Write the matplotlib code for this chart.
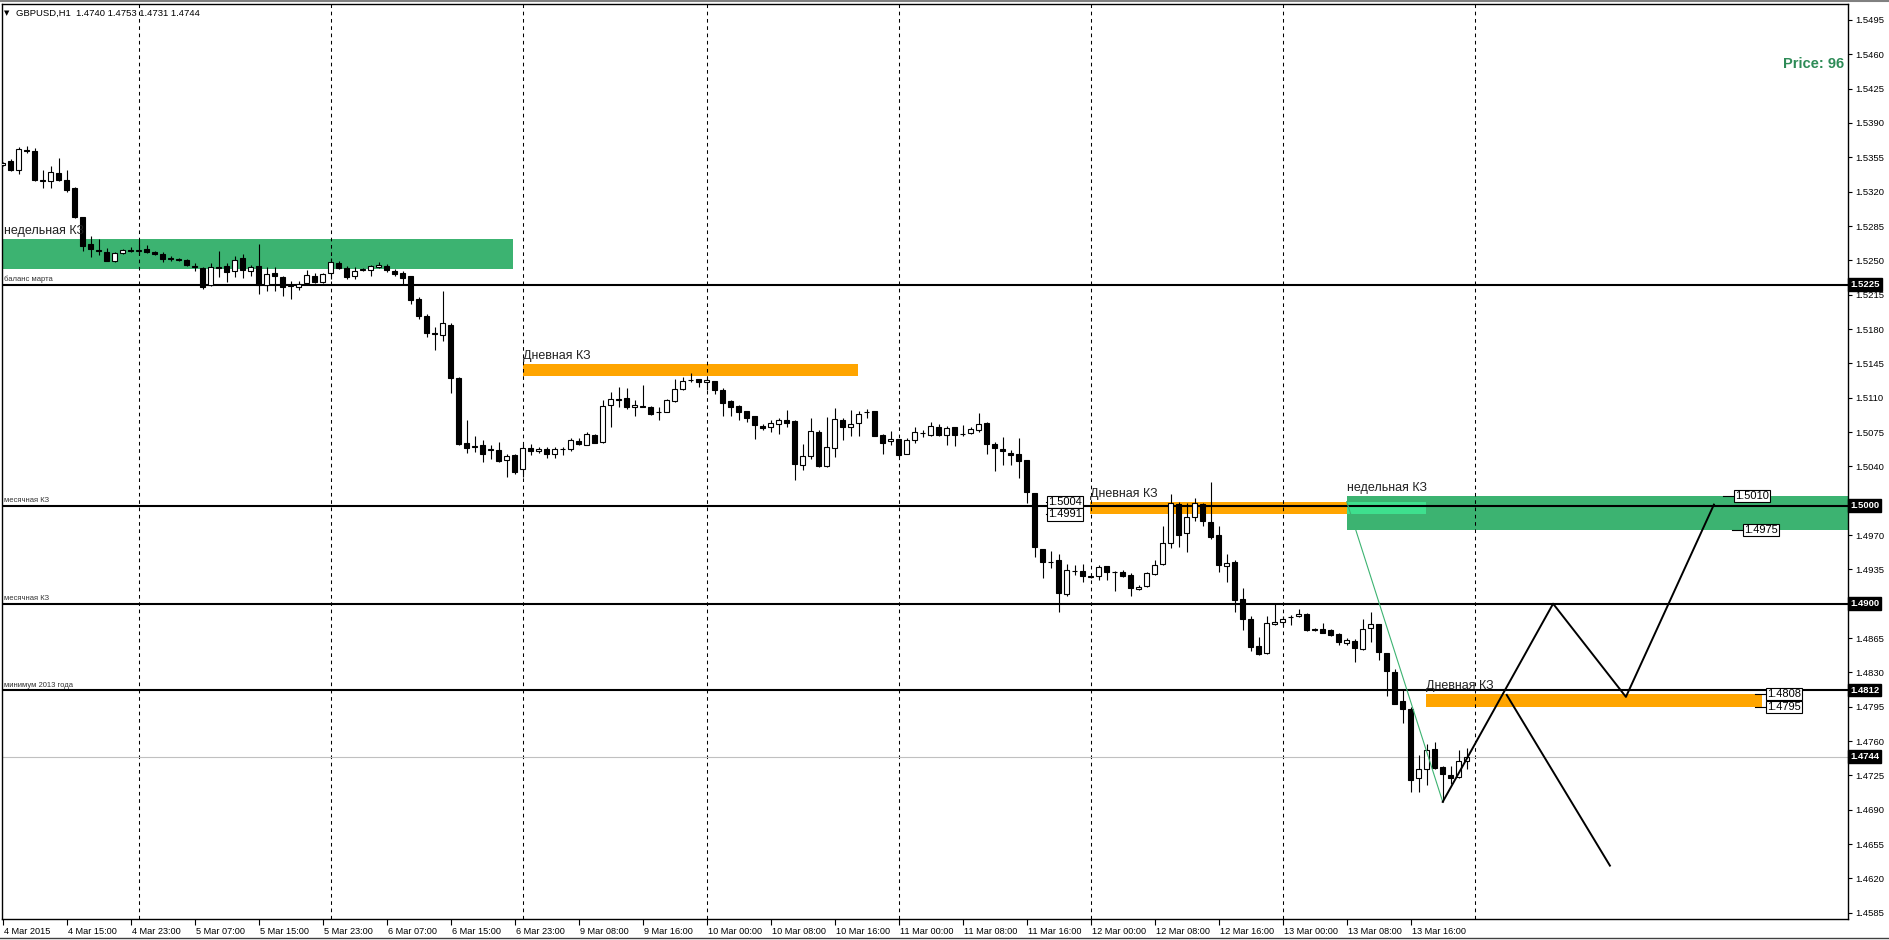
import numpy as np
import matplotlib
matplotlib.use("Agg")
import matplotlib.pyplot as plt
from matplotlib.patches import Rectangle
from matplotlib.transforms import ScaledTranslation, blended_transform_factory

plt.rcParams['font.family'] = ['Liberation Sans', 'DejaVu Sans']

# GBPUSD H1, 4 Mar 2015 07:00 ... 13 Mar 2015 23:00 (bar index 0..183)
opens = [
    1.5347, 1.5351, 1.5342, 1.5362, 1.5361, 1.5332, 1.5331, 1.5339, 1.5332, 1.5324,
    1.5294, 1.5267, 1.5261, 1.5259, 1.5249, 1.5257, 1.5261, 1.5260, 1.5262, 1.5259,
    1.5256, 1.5252, 1.5251, 1.5250, 1.5244, 1.5242, 1.5225, 1.5243, 1.5244, 1.5239,
    1.5252, 1.5239, 1.5244, 1.5225, 1.5237, 1.5233, 1.5224, 1.5223, 1.5227, 1.5234,
    1.5228, 1.5237, 1.5247, 1.5242, 1.5234, 1.5240, 1.5240, 1.5243, 1.5244, 1.5239,
    1.5237, 1.5234, 1.5211, 1.5193, 1.5176, 1.5174, 1.5184, 1.5130, 1.5064, 1.5061,
    1.5062, 1.5058, 1.5057, 1.5046, 1.5052, 1.5037, 1.5059, 1.5056, 1.5058, 1.5053,
    1.5058, 1.5058, 1.5066, 1.5062, 1.5072, 1.5065, 1.5103, 1.5109, 1.5110, 1.5100,
    1.5102, 1.5100, 1.5095, 1.5095, 1.5107, 1.5119, 1.5128, 1.5129, 1.5126, 1.5127,
    1.5118, 1.5107, 1.5102, 1.5096, 1.5091, 1.5081, 1.5080, 1.5083, 1.5087, 1.5086,
    1.5041, 1.5051, 1.5075, 1.5040, 1.5059, 1.5087, 1.5080, 1.5084, 1.5095, 1.5096,
    1.5072, 1.5066, 1.5068, 1.5053, 1.5067, 1.5074, 1.5072, 1.5080, 1.5072, 1.5080,
    1.5073, 1.5074, 1.5077, 1.5084, 1.5063, 1.5058, 1.5054, 1.5053, 1.5046, 1.5013,
    1.4956, 1.4942, 1.4945, 1.4910, 1.4933, 1.4933, 1.4927, 1.4928, 1.4938, 1.4932,
    1.4932, 1.4929, 1.4915, 1.4918, 1.4930, 1.4940, 1.4962, 1.5002, 1.4972, 1.4988,
    1.5002, 1.4983, 1.4970, 1.4938, 1.4942, 1.4905, 1.4884, 1.4857, 1.4850, 1.4879,
    1.4881, 1.4886, 1.4887, 1.4890, 1.4874, 1.4874, 1.4873, 1.4869, 1.4860, 1.4862,
    1.4854, 1.4875, 1.4879, 1.4850, 1.4830, 1.4801, 1.4793, 1.4722, 1.4731, 1.4752,
    1.4734, 1.4725, 1.4723, 1.4740,
]
highs = [
    1.5350, 1.5353, 1.5366, 1.5367, 1.5365, 1.5342, 1.5346, 1.5354, 1.5342, 1.5325,
    1.5294, 1.5275, 1.5272, 1.5263, 1.5258, 1.5262, 1.5264, 1.5271, 1.5266, 1.5260,
    1.5258, 1.5254, 1.5252, 1.5251, 1.5247, 1.5243, 1.5247, 1.5260, 1.5247, 1.5254,
    1.5256, 1.5245, 1.5267, 1.5243, 1.5243, 1.5234, 1.5229, 1.5229, 1.5240, 1.5237,
    1.5237, 1.5252, 1.5249, 1.5244, 1.5243, 1.5242, 1.5245, 1.5248, 1.5246, 1.5241,
    1.5239, 1.5234, 1.5213, 1.5195, 1.5182, 1.5219, 1.5186, 1.5131, 1.5087, 1.5071,
    1.5067, 1.5062, 1.5065, 1.5053, 1.5053, 1.5063, 1.5063, 1.5060, 1.5060, 1.5060,
    1.5060, 1.5069, 1.5069, 1.5075, 1.5073, 1.5108, 1.5116, 1.5121, 1.5120, 1.5108,
    1.5123, 1.5102, 1.5100, 1.5109, 1.5129, 1.5131, 1.5135, 1.5129, 1.5131, 1.5127,
    1.5120, 1.5108, 1.5103, 1.5096, 1.5091, 1.5083, 1.5087, 1.5089, 1.5097, 1.5087,
    1.5063, 1.5089, 1.5077, 1.5090, 1.5099, 1.5089, 1.5097, 1.5096, 1.5098, 1.5096,
    1.5073, 1.5076, 1.5068, 1.5069, 1.5080, 1.5077, 1.5085, 1.5083, 1.5081, 1.5080,
    1.5082, 1.5080, 1.5094, 1.5085, 1.5065, 1.5070, 1.5057, 1.5069, 1.5046, 1.5013,
    1.4956, 1.4954, 1.4951, 1.4940, 1.4939, 1.4940, 1.4929, 1.4939, 1.4938, 1.4933,
    1.4934, 1.4931, 1.4919, 1.4932, 1.4945, 1.4979, 1.5012, 1.5004, 1.5003, 1.5008,
    1.5003, 1.5024, 1.4979, 1.4951, 1.4945, 1.4916, 1.4887, 1.4866, 1.4887, 1.4900,
    1.4887, 1.4888, 1.4895, 1.4891, 1.4875, 1.4880, 1.4874, 1.4870, 1.4865, 1.4864,
    1.4884, 1.4892, 1.4879, 1.4850, 1.4833, 1.4812, 1.4795, 1.4746, 1.4757, 1.4759,
    1.4735, 1.4735, 1.4751, 1.4753,
]
lows = [
    1.5346, 1.5341, 1.5338, 1.5359, 1.5331, 1.5324, 1.5324, 1.5331, 1.5320, 1.5293,
    1.5260, 1.5253, 1.5255, 1.5249, 1.5248, 1.5256, 1.5258, 1.5255, 1.5257, 1.5255,
    1.5248, 1.5249, 1.5249, 1.5244, 1.5239, 1.5221, 1.5224, 1.5233, 1.5228, 1.5233,
    1.5232, 1.5234, 1.5216, 1.5219, 1.5219, 1.5214, 1.5211, 1.5220, 1.5227, 1.5227,
    1.5227, 1.5231, 1.5241, 1.5231, 1.5231, 1.5239, 1.5234, 1.5242, 1.5238, 1.5234,
    1.5226, 1.5206, 1.5190, 1.5172, 1.5159, 1.5168, 1.5115, 1.5062, 1.5054, 1.5055,
    1.5044, 1.5048, 1.5044, 1.5029, 1.5032, 1.5029, 1.5052, 1.5054, 1.5049, 1.5049,
    1.5052, 1.5056, 1.5062, 1.5062, 1.5064, 1.5064, 1.5080, 1.5101, 1.5098, 1.5091,
    1.5100, 1.5092, 1.5087, 1.5095, 1.5106, 1.5118, 1.5126, 1.5121, 1.5118, 1.5114,
    1.5091, 1.5091, 1.5087, 1.5085, 1.5068, 1.5077, 1.5075, 1.5073, 1.5080, 1.5026,
    1.5036, 1.5048, 1.5039, 1.5039, 1.5050, 1.5067, 1.5071, 1.5071, 1.5089, 1.5071,
    1.5053, 1.5062, 1.5050, 1.5053, 1.5064, 1.5070, 1.5071, 1.5071, 1.5062, 1.5061,
    1.5071, 1.5073, 1.5075, 1.5053, 1.5035, 1.5041, 1.5041, 1.5028, 1.5003, 1.4948,
    1.4926, 1.4936, 1.4892, 1.4908, 1.4929, 1.4922, 1.4926, 1.4924, 1.4924, 1.4913,
    1.4927, 1.4908, 1.4914, 1.4917, 1.4929, 1.4939, 1.4957, 1.4958, 1.4953, 1.4984,
    1.4979, 1.4966, 1.4932, 1.4922, 1.4892, 1.4873, 1.4852, 1.4848, 1.4849, 1.4878,
    1.4877, 1.4878, 1.4886, 1.4872, 1.4872, 1.4870, 1.4867, 1.4858, 1.4858, 1.4841,
    1.4853, 1.4861, 1.4843, 1.4806, 1.4798, 1.4778, 1.4708, 1.4708, 1.4715, 1.4732,
    1.4698, 1.4716, 1.4722, 1.4731,
]
closes = [
    1.5349, 1.5342, 1.5363, 1.5361, 1.5332, 1.5331, 1.5340, 1.5332, 1.5322, 1.5294,
    1.5265, 1.5262, 1.5260, 1.5249, 1.5257, 1.5261, 1.5260, 1.5261, 1.5259, 1.5256,
    1.5251, 1.5251, 1.5250, 1.5245, 1.5243, 1.5223, 1.5243, 1.5242, 1.5238, 1.5250,
    1.5240, 1.5243, 1.5225, 1.5236, 1.5234, 1.5223, 1.5225, 1.5226, 1.5235, 1.5228,
    1.5236, 1.5248, 1.5242, 1.5233, 1.5239, 1.5241, 1.5244, 1.5245, 1.5240, 1.5236,
    1.5232, 1.5210, 1.5193, 1.5176, 1.5175, 1.5186, 1.5130, 1.5063, 1.5059, 1.5060,
    1.5053, 1.5057, 1.5045, 1.5051, 1.5034, 1.5059, 1.5056, 1.5058, 1.5053, 1.5058,
    1.5058, 1.5067, 1.5063, 1.5073, 1.5064, 1.5102, 1.5109, 1.5108, 1.5101, 1.5103,
    1.5101, 1.5093, 1.5095, 1.5108, 1.5119, 1.5127, 1.5128, 1.5126, 1.5128, 1.5118,
    1.5105, 1.5100, 1.5095, 1.5089, 1.5082, 1.5079, 1.5084, 1.5087, 1.5084, 1.5042,
    1.5051, 1.5076, 1.5040, 1.5060, 1.5088, 1.5080, 1.5083, 1.5093, 1.5095, 1.5071,
    1.5064, 1.5068, 1.5052, 1.5067, 1.5075, 1.5074, 1.5081, 1.5072, 1.5079, 1.5072,
    1.5073, 1.5078, 1.5083, 1.5063, 1.5059, 1.5056, 1.5052, 1.5045, 1.5014, 1.4958,
    1.4943, 1.4942, 1.4911, 1.4934, 1.4933, 1.4928, 1.4928, 1.4937, 1.4932, 1.4932,
    1.4928, 1.4916, 1.4917, 1.4931, 1.4939, 1.4962, 1.5003, 1.4970, 1.4988, 1.5003,
    1.4984, 1.4968, 1.4939, 1.4941, 1.4904, 1.4884, 1.4856, 1.4849, 1.4880, 1.4881,
    1.4884, 1.4886, 1.4889, 1.4873, 1.4873, 1.4870, 1.4868, 1.4861, 1.4863, 1.4855,
    1.4874, 1.4879, 1.4851, 1.4831, 1.4798, 1.4793, 1.4720, 1.4732, 1.4751, 1.4733,
    1.4726, 1.4722, 1.4740, 1.4744,
]

tick_bars = list(range(0, 184, 8))
tick_labels = ['4 Mar 2015', '4 Mar 15:00', '4 Mar 23:00', '5 Mar 07:00', '5 Mar 15:00',
               '5 Mar 23:00', '6 Mar 07:00', '6 Mar 15:00', '6 Mar 23:00', '9 Mar 08:00',
               '9 Mar 16:00', '10 Mar 00:00', '10 Mar 08:00', '10 Mar 16:00', '11 Mar 00:00',
               '11 Mar 08:00', '11 Mar 16:00', '12 Mar 00:00', '12 Mar 08:00', '12 Mar 16:00',
               '13 Mar 00:00', '13 Mar 08:00', '13 Mar 16:00']
day_starts = [17, 41, 65, 88, 112, 136, 160, 184]

levels = [1.5225, 1.5000, 1.4900, 1.4812]
level_notes = ['баланс марта', 'месячная КЗ', 'месячная КЗ', 'минимум 2013 года']
last_price = 1.4744

# supply/demand zones: bar range and price range
zone_start = [-1.0, 65.0, 135.9, 168.0, 177.9]
zone_end = [63.8, 106.9, 168.0, 235.0, 219.9]
zone_low = [1.5241, 1.5132, 1.4991, 1.4975, 1.4795]
zone_high = [1.5272, 1.5144, 1.5004, 1.5010, 1.4808]
zone_weekly = [True, False, False, True, False]
zone_text = ['недельная КЗ', 'Дневная КЗ', 'Дневная КЗ', 'недельная КЗ', 'Дневная КЗ']

# boxed price labels of the zones
plabel_bar = [130.4, 130.4, 216.3, 217.4, 220.3, 220.3]
plabel_from = [134.8, 134.8, 215.0, 216.2, 219.0, 219.0]
plabel_price = [1.5004, 1.4991, 1.5010, 1.4975, 1.4808, 1.4795]

# forecast drawings
trend_x = [168.0, 180.0]
trend_y = [1.5004, 1.4698]
path_x = [180.0, 193.8, 202.9, 213.9]
path_y = [1.4698, 1.4900, 1.4805, 1.5001]
alt_x = [188.0, 200.9]
alt_y = [1.4807, 1.4633]

W, H = 1889, 940
fig = plt.figure(figsize=(W / 100, H / 100), dpi=100)
fig.patch.set_facecolor('white')
ax = fig.add_axes([2 / W, (H - 919) / H, 1846 / W, 915 / H])
ax.set_xlim(-0.09, 230.66)
ax.set_ylim(1.45786, 1.55113)

o = np.array(opens); h = np.array(highs); l = np.array(lows); c = np.array(closes)
idx = np.arange(len(o))
up = c > o

# zones
for s, e, lo, hi, wk, txt in zip(zone_start, zone_end, zone_low, zone_high, zone_weekly, zone_text):
    col = '#3CB371' if wk else '#FFA500'
    ax.add_patch(Rectangle((s, lo), e - s, hi - lo, facecolor=col, edgecolor='none', zorder=1))
    t = ax.text(max(s, 0.1), hi, txt, fontsize=9, color='#222222', ha='left', va='baseline', zorder=6)
    t.set_transform(ax.transData + ScaledTranslation(0, 5 / 100, fig.dpi_scale_trans))
# overlap of daily and weekly zone on 13 Mar
ax.add_patch(Rectangle((168.0, 1.4991), 9.9, 1.5004 - 1.4991, facecolor='#3EE08E', edgecolor='none', zorder=1.5))

# period separators
for d in day_starts:
    ax.axvline(d, color='black', lw=0.75, linestyle=(0, (3.5, 3.5)), zorder=2)

# key levels
for lv, note in zip(levels, level_notes):
    ax.axhline(lv, color='black', lw=1.5, zorder=2.2)
    t = ax.text(0.1, lv, note, fontsize=5.5, color='#333333', ha='left', va='bottom', zorder=6)
    t.set_transform(ax.transData + ScaledTranslation(0, 1.5 / 100, fig.dpi_scale_trans))
ax.axhline(last_price, color='#C0C0C0', lw=0.8, zorder=2)

# candles
ax.vlines(idx, l, h, color='black', lw=0.8, zorder=3)
body_lo = np.minimum(o, c)
body_h = np.maximum(np.abs(c - o), 0.00002)
ax.bar(idx[up], body_h[up], bottom=body_lo[up], width=0.62, facecolor='white',
       edgecolor='black', lw=0.8, zorder=4)
ax.bar(idx[~up], body_h[~up], bottom=body_lo[~up], width=0.62, facecolor='black',
       edgecolor='black', lw=0.8, zorder=4)

# drawings
ax.plot(trend_x, trend_y, color='#3CB371', lw=0.8, zorder=5)
ax.plot(path_x, path_y, color='black', lw=1.4, zorder=5)
ax.plot(alt_x, alt_y, color='black', lw=1.4, zorder=5)

for bx, fx, p in zip(plabel_bar, plabel_from, plabel_price):
    ax.plot([fx, bx], [p, p], color='black', lw=0.8, zorder=6)
    ax.text(bx + 0.25, p, f'{p:.4f}', fontsize=8, ha='left', va='center', zorder=7,
            bbox=dict(boxstyle='square,pad=0.1', facecolor='white', edgecolor='black', lw=0.8))

# axes styling
for sp in ax.spines.values():
    sp.set_color('black')
    sp.set_linewidth(1.0)
ax.yaxis.tick_right()
yt = np.round(np.arange(1.4585, 1.5496, 0.0035), 4)
ax.set_yticks(yt)
# labels that sit under a price tag are hidden by the tag in the terminal
hidden = [v for v in yt if any(abs(v - p) < 0.0008 for p in levels + [last_price])]
ax.set_yticklabels(['' if v in hidden else f'{v:.4f}' for v in yt])
ax.tick_params(axis='y', direction='out', length=3, width=0.8, pad=2, labelsize=6.8)
ax.set_xticks(tick_bars)
ax.set_xticklabels(tick_labels)
ax.tick_params(axis='x', direction='out', length=4, width=0.8, pad=2, labelsize=6.6)
for lbl in ax.get_xticklabels():
    lbl.set_horizontalalignment('left')
    lbl.set_transform(lbl.get_transform() + ScaledTranslation(1.5 / 100, 0, fig.dpi_scale_trans))

# price tags on the scale
tag_tr = blended_transform_factory(ax.transAxes, ax.transData)
for p in levels + [last_price]:
    ax.text(1.0012, p, f'{p:.4f}', transform=tag_tr, fontsize=6.8, fontweight='bold', color='white',
            ha='left', va='center', clip_on=False, zorder=10,
            bbox=dict(boxstyle='square,pad=0.2', facecolor='black', edgecolor='black'))

# header and info text
fig.text(4 / W, 1 - 13 / H, '▼', fontsize=5, va='center', ha='left', family=['DejaVu Sans'])
fig.text(16 / W, 1 - 13 / H, 'GBPUSD,H1  1.4740 1.4753 1.4731 1.4744', fontsize=6.8, va='center', ha='left')
ax.text(1 - 4 / 1846, 1 - 60 / 915, 'Price: 96', transform=ax.transAxes, fontsize=10.5,
        fontweight='bold', color='#2E8B57', ha='right', va='center', zorder=8)

fig.add_artist(plt.Line2D([0, 1], [1 - 1 / H, 1 - 1 / H], color='#808080', lw=1.5))
fig.add_artist(plt.Line2D([0, 1], [2 / H, 2 / H], color='#404040', lw=1.0))

fig.savefig('out.png', dpi=100)
